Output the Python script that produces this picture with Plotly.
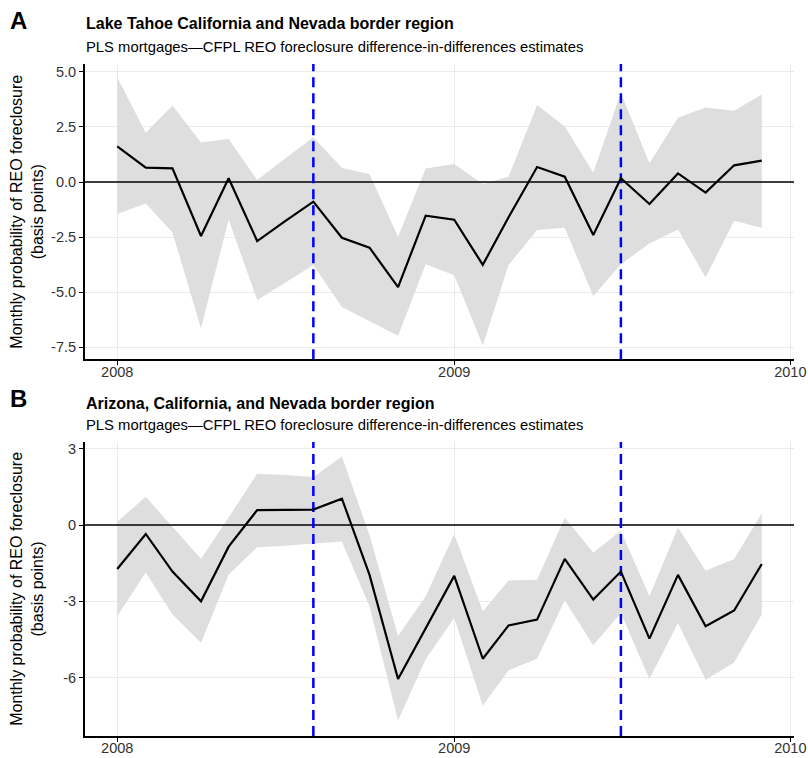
import pandas as pd
import plotly.graph_objects as go

# ---------------- data ----------------
months = pd.date_range("2008-01-01", periods=24, freq="MS")
events = ["2008-08-01", "2009-07-01"]

A_est = [1.62, 0.65, 0.62, -2.45, 0.17, -2.68, -1.79, -0.89, -2.53, -2.98, -4.77, -1.53,
         -1.71, -3.76, -1.60, 0.68, 0.24, -2.41, 0.17, -1.00, 0.39, -0.48, 0.76, 0.97]
A_hi = [4.76, 2.24, 3.47, 1.79, 1.95, 0.09, 1.06, 2.03, 0.65, 0.35, -2.48, 0.62,
        0.82, -0.09, 0.24, 3.50, 2.52, 0.42, 4.06, 0.85, 2.92, 3.39, 3.24, 3.97]
A_lo = [-1.45, -0.97, -2.29, -6.65, -1.70, -5.36, -4.58, -3.77, -5.67, -6.32, -6.98, -3.73,
        -4.23, -7.41, -3.77, -2.18, -2.08, -5.18, -3.73, -2.79, -2.15, -4.33, -1.76, -2.08]

B_est = [-1.73, -0.35, -1.83, -3.00, -0.85, 0.59, 0.60, 0.61, 1.04, -1.96, -6.06, -4.05,
         -2.00, -5.26, -3.95, -3.72, -1.33, -2.93, -1.83, -4.47, -1.96, -3.98, -3.36, -1.53]
B_hi = [0.13, 1.11, -0.07, -1.33, 0.30, 2.02, 1.97, 1.89, 2.70, -0.39, -4.37, -2.80,
        -0.35, -3.39, -2.18, -2.15, 0.29, -1.08, -0.23, -2.80, -0.10, -1.80, -1.34, 0.46]
B_lo = [-3.59, -1.87, -3.52, -4.63, -1.96, -0.87, -0.81, -0.72, -0.65, -3.20, -7.69, -5.28,
        -3.65, -7.11, -5.71, -5.26, -2.96, -4.73, -3.46, -6.06, -3.85, -6.09, -5.41, -3.52]

A_yticks = [-7.5, -5.0, -2.5, 0.0, 2.5, 5.0]
B_yticks = [-6, -3, 0, 3]
x_ticks = ["2008-01-01", "2009-01-01", "2010-01-01"]
x_ticklabels = ["2008", "2009", "2010"]

panel_letters = ["A", "B"]
titles = ["Lake Tahoe California and Nevada border region",
          "Arizona, California, and Nevada border region"]
subtitle = "PLS mortgages\u2014CFPL REO foreclosure difference-in-differences estimates"
ytitle = "Monthly probability of REO foreclosure<br>(basis points)"

# ---------------- style ----------------
FONT = "Liberation Sans, Arial, Helvetica, sans-serif"
W, H = 808, 758
x_range = ["2007-11-27", "2010-01-05"]
A_range = [-8.05, 5.36]
B_range = [-8.30, 3.28]
xdom = [85 / W, 794 / W]
A_dom = [1 - 359.3 / H, 1 - 64 / H]
B_dom = [1 - 736 / H, 1 - 441.7 / H]

fig = go.Figure()


def add_panel(est, lo, hi, yr, xa, ya):
    fig.add_trace(go.Scatter(x=months, y=lo, mode="lines", line=dict(width=0, color="#dedede"),
                             hoverinfo="skip", showlegend=False, xaxis=xa, yaxis=ya))
    fig.add_trace(go.Scatter(x=months, y=hi, mode="lines", line=dict(width=0, color="#dedede"),
                             fill="tonexty", fillcolor="#dedede",
                             hoverinfo="skip", showlegend=False, xaxis=xa, yaxis=ya))
    # zero reference line
    fig.add_trace(go.Scatter(x=x_range, y=[0, 0], mode="lines", line=dict(width=1.6, color="black"),
                             hoverinfo="skip", showlegend=False, xaxis=xa, yaxis=ya))
    # event lines
    for ev in events:
        fig.add_trace(go.Scatter(x=[ev, ev], y=yr, mode="lines",
                                 line=dict(width=2.5, color="#0000ff", dash="10px,6px"),
                                 hoverinfo="skip", showlegend=False, xaxis=xa, yaxis=ya))
    fig.add_trace(go.Scatter(x=months, y=est, mode="lines", line=dict(width=2.2, color="black"),
                             showlegend=False, xaxis=xa, yaxis=ya))


add_panel(A_est, A_lo, A_hi, A_range, "x", "y")
add_panel(B_est, B_lo, B_hi, B_range, "x2", "y2")

xcommon = dict(range=x_range, tickvals=x_ticks, ticktext=x_ticklabels, showgrid=True,
               gridcolor="#ebebeb", gridwidth=1, showline=True, linecolor="black", linewidth=2,
               ticks="outside", ticklen=4, tickwidth=1.2, tickcolor="black",
               tickfont=dict(family=FONT, size=14.5, color="#333333"), zeroline=False,
               ticklabelstandoff=-6,
               domain=xdom, automargin=False, fixedrange=True)
ycommon = dict(showgrid=True, gridcolor="#ebebeb", gridwidth=1, showline=True, linecolor="black",
               linewidth=2, ticks="outside", ticklen=4, tickwidth=1.2, tickcolor="black",
               tickfont=dict(family=FONT, size=14.5, color="#333333"), zeroline=False,
               automargin=False, fixedrange=True)

fig.update_layout(
    width=W, height=H, margin=dict(l=0, r=0, t=0, b=0, autoexpand=False),
    paper_bgcolor="white", plot_bgcolor="white",
    font=dict(family=FONT, color="black"),
    xaxis=dict(**xcommon, anchor="y"),
    yaxis=dict(**ycommon, range=A_range, tickvals=A_yticks,
               ticktext=[f"{v:.1f}" for v in A_yticks], domain=A_dom, anchor="x"),
    xaxis2=dict(**xcommon, anchor="y2"),
    yaxis2=dict(**ycommon, range=B_range, tickvals=B_yticks,
                ticktext=[str(v) for v in B_yticks], domain=B_dom, anchor="x2"),
)

# text annotations
letter_y = [20, 398.5]
title_y = [23, 403]
sub_y = [47, 425]
yt_center = [(64 + 359.3) / 2, (441.7 + 736) / 2]
for i in range(2):
    fig.add_annotation(text=f"<b>{panel_letters[i]}</b>", xref="paper", yref="paper",
                       x=8 / W, y=1 - letter_y[i] / H, xanchor="left", yanchor="middle",
                       showarrow=False, font=dict(family=FONT, size=24, color="black"))
    fig.add_annotation(text=f"<b>{titles[i]}</b>", xref="paper", yref="paper",
                       x=84 / W, y=1 - title_y[i] / H, xanchor="left", yanchor="middle",
                       showarrow=False, font=dict(family=FONT, size=16, color="black"))
    fig.add_annotation(text=subtitle, xref="paper", yref="paper",
                       x=84 / W, y=1 - sub_y[i] / H, xanchor="left", yanchor="middle",
                       showarrow=False, font=dict(family=FONT, size=14.8, color="black"))
    fig.add_annotation(text=ytitle, xref="paper", yref="paper",
                       x=27 / W, y=1 - yt_center[i] / H, xanchor="center", yanchor="middle",
                       textangle=-90, showarrow=False,
                       font=dict(family=FONT, size=16, color="black"))

fig.write_html("out.html", config={"displayModeBar": False},
               post_script="document.body.style.margin='0';")
